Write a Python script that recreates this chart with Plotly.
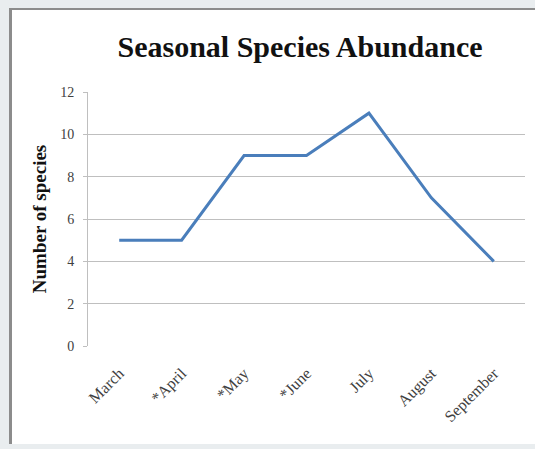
import plotly.graph_objects as go

# Monthly species counts
months = ["March", "*April", "*May", "*June", "July", "August", "September"]
species_counts = [5, 5, 9, 9, 11, 7, 4]
y_ticks = [0, 2, 4, 6, 8, 10, 12]

W, H = 535, 449
L, R, T, B = 88, 10, 92, 103
pw, ph = W - L - R, H - T - B


def px_x(px):
    return (px - L) / pw


def px_y(py):
    return (H - B - py) / ph


fig = go.Figure()
fig.add_trace(go.Scatter(
    x=months, y=species_counts, mode="lines",
    line=dict(color="#4a7ebb", width=3),
    hoverinfo="x+y",
))

serif = "Liberation Serif, Times New Roman, serif"

fig.update_layout(
    width=W, height=H,
    margin=dict(l=L, r=R, t=T, b=B),
    paper_bgcolor="#e9edef",
    plot_bgcolor="white",
    showlegend=False,
    title=dict(
        text="<b>Seasonal Species Abundance</b>",
        font=dict(family=serif, size=30, color="#111111"),
        x=300 / W, xanchor="center",
        y=1 - 46 / H, yanchor="middle",
    ),
    xaxis=dict(
        tickangle=-45,
        tickfont=dict(family=serif, size=16, color="#404040"),
        showgrid=False,
        showline=False,
        ticks="",
        ticklabelstandoff=14,
        range=[-0.5, len(months) - 0.5],
    ),
    yaxis=dict(
        range=[0, 12],
        tickvals=y_ticks,
        tickfont=dict(family=serif, size=14, color="#404040"),
        showgrid=True, gridcolor="#bfbfbf", gridwidth=1,
        showline=True, linecolor="#bfbfbf", linewidth=1,
        zeroline=False,
        ticks="outside", ticklen=4, tickcolor="#bfbfbf",
        ticklabelstandoff=6,
        title=dict(text="<b>Number of species</b>",
                   font=dict(family=serif, size=19, color="#111111"),
                   standoff=8),
    ),
    shapes=[
        # white chart frame
        dict(type="rect", xref="paper", yref="paper", layer="below",
             x0=px_x(10), x1=px_x(540), y0=px_y(444), y1=px_y(9),
             fillcolor="white", line=dict(width=0)),
        # darker frame edges
        dict(type="line", xref="paper", yref="paper", layer="below",
             x0=px_x(10.5), x1=px_x(10.5), y0=px_y(444), y1=px_y(8),
             line=dict(color="#8c8c8c", width=3)),
        dict(type="line", xref="paper", yref="paper", layer="below",
             x0=px_x(10), x1=px_x(540), y0=px_y(9), y1=px_y(9),
             line=dict(color="#8c8c8c", width=2)),
    ],
)

fig.write_html("out.html")
